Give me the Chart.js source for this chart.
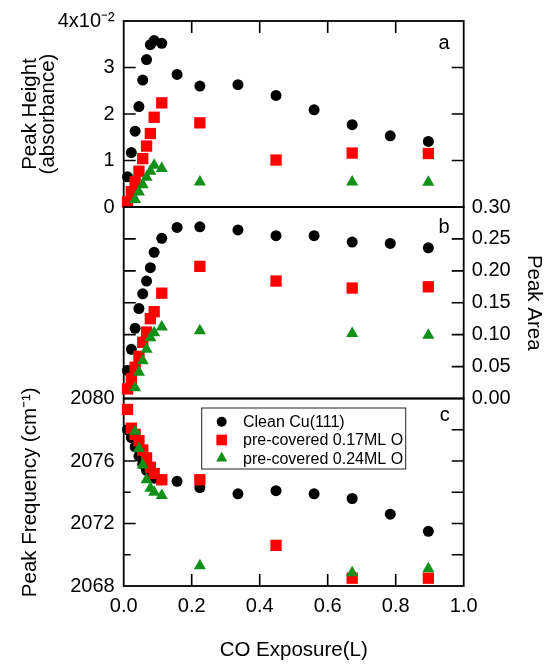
<!DOCTYPE html>
<html>
<head>
<meta charset="utf-8">
<script src="https://cdn.jsdelivr.net/npm/chart.js@4"></script>
<style>
  body { margin: 0; background: #fff; }
  #wrap { position: relative; width: 555px; height: 668px; }
  #wrap canvas { position: absolute; left: 0; top: 0; }
</style>
</head>
<body>
<div id="wrap">
  <canvas id="heightChart" width="555" height="668"></canvas>
  <canvas id="areaChart" width="555" height="668"></canvas>
  <canvas id="freqChart" width="555" height="668"></canvas>
</div>
<script>
// CO exposure (L) for each series
const cleanX = [0.0112, 0.0224, 0.0336, 0.0448, 0.056, 0.0672, 0.0784, 0.0896, 0.112, 0.157, 0.224, 0.336, 0.448, 0.56, 0.672, 0.784, 0.896];
const o17X = [0.0112, 0.0224, 0.0336, 0.0448, 0.056, 0.0672, 0.0784, 0.0896, 0.112, 0.224, 0.448, 0.672, 0.896];
const o24X = [0.0336, 0.0448, 0.056, 0.0672, 0.0784, 0.0896, 0.112, 0.224, 0.672, 0.896];

// panel a: peak height, in units of 10^-2 absorbance
const cleanHeight = [0.65, 1.17, 1.63, 2.16, 2.73, 3.17, 3.49, 3.58, 3.52, 2.85, 2.60, 2.63, 2.40, 2.09, 1.77, 1.53, 1.41];
const o17Height = [0.11, 0.33, 0.54, 0.77, 1.04, 1.31, 1.58, 1.93, 2.24, 1.81, 1.01, 1.16, 1.15];
const o24Height = [0.16, 0.32, 0.48, 0.64, 0.77, 0.90, 0.83, 0.54, 0.54, 0.53];

// panel b: peak area
const cleanArea = [0.044, 0.077, 0.110, 0.141, 0.164, 0.184, 0.205, 0.229, 0.251, 0.268, 0.269, 0.264, 0.255, 0.255, 0.245, 0.243, 0.236];
const o17Area = [0.015, 0.031, 0.049, 0.066, 0.088, 0.104, 0.125, 0.136, 0.165, 0.207, 0.184, 0.173, 0.175];
const o24Area = [0.017, 0.041, 0.059, 0.077, 0.095, 0.103, 0.112, 0.106, 0.102, 0.099];

// panel c: peak frequency (cm-1)
const cleanFreq = [2078.0, 2077.5, 2076.9, 2076.3, 2075.8, 2075.4, 2075.1, 2074.9, 2074.8, 2074.7, 2074.3, 2073.9, 2074.1, 2073.9, 2073.6, 2072.6, 2071.5];
const o17Freq = [2079.3, 2078.1, 2077.7, 2077.3, 2076.7, 2076.2, 2075.6, 2075.2, 2074.8, 2074.8, 2070.6, 2068.5, 2068.5];
const o24Freq = [2077.9, 2076.8, 2075.75, 2074.8, 2074.25, 2074.0, 2073.8, 2069.3, 2068.85, 2069.1];

// tick marks drawn inside the frames
const xMarks = [0.2, 0.4, 0.6, 0.8];
const heightMarks = [1, 2, 3];
const areaMarks = [0.05, 0.10, 0.15, 0.20, 0.25];
const freqMajor = [2072, 2076];
const freqMinor = [2070, 2074, 2078];
const freqRight = [2070, 2072, 2074, 2076, 2078];

// layout
const W = 555, H = 668;
const PLOT_LEFT = 123.7, PLOT_RIGHT = 463.7;
const EDGES = [20, 207, 398.5, 586];

Chart.defaults.font.family = "'Liberation Sans', Arial, sans-serif";
Chart.defaults.font.size = 20;
Chart.defaults.color = '#000';
Chart.defaults.animation = false;
Chart.defaults.plugins.legend.display = false;
Chart.defaults.plugins.tooltip.enabled = false;

const titleFont = { size: 20.5, lineHeight: 0.85 };

const series = [
  { label: 'Clean Cu(111)', color: '#000000', style: 'circle', radius: 5.5, order: 2 },
  { label: 'pre-covered 0.17ML O', color: '#ff0000', style: 'rect', radius: 8, order: 1 },
  { label: 'pre-covered 0.24ML O', color: '#11901a', style: 'triangle', radius: 7, order: 0 }
];

function makeDatasets(ys) {
  const xs = [cleanX, o17X, o24X];
  return series.map((s, k) => ({
    label: s.label,
    data: xs[k].map((x, i) => ({ x: x, y: ys[k][i] })),
    pointStyle: s.style,
    pointRadius: s.radius,
    pointBackgroundColor: s.color,
    pointBorderWidth: 0,
    borderColor: s.color,
    showLine: false,
    clip: false,
    order: s.order
  }));
}

function drawMarker(ctx, style, x, y, r) {
  ctx.beginPath();
  if (style === 'circle') {
    ctx.arc(x, y, r, 0, Math.PI * 2);
  } else if (style === 'rect') {
    const s = r * Math.SQRT1_2;
    ctx.rect(x - s, y - s, 2 * s, 2 * s);
  } else {
    ctx.moveTo(x, y - r);
    ctx.lineTo(x + r * 0.866, y + r / 2);
    ctx.lineTo(x - r * 0.866, y + r / 2);
    ctx.closePath();
  }
  ctx.fill();
}

const framePlugin = {
  id: 'frame',
  beforeDatasetsDraw(chart, args, opts) {
    const { ctx, chartArea: a, scales } = chart;
    const y = scales.y, x = scales.x;
    ctx.save();
    ctx.strokeStyle = '#000';
    ctx.lineWidth = 1.8;
    ctx.strokeRect(a.left, a.top, a.right - a.left, a.bottom - a.top);
    ctx.lineWidth = 1.6;
    ctx.beginPath();
    (opts.left || []).forEach(v => { const p = y.getPixelForValue(v); ctx.moveTo(a.left, p); ctx.lineTo(a.left + 12, p); });
    (opts.leftMinor || []).forEach(v => { const p = y.getPixelForValue(v); ctx.moveTo(a.left, p); ctx.lineTo(a.left + 7, p); });
    (opts.right || []).forEach(v => { const p = y.getPixelForValue(v); ctx.moveTo(a.right, p); ctx.lineTo(a.right - 12, p); });
    (opts.top || []).forEach(v => { const p = x.getPixelForValue(v); ctx.moveTo(p, a.top); ctx.lineTo(p, a.top + 12); });
    (opts.bottom || []).forEach(v => { const p = x.getPixelForValue(v); ctx.moveTo(p, a.bottom); ctx.lineTo(p, a.bottom - 12); });
    ctx.stroke();
    if (opts.letter) {
      ctx.fillStyle = '#000';
      ctx.font = "20px 'Liberation Sans', Arial, sans-serif";
      ctx.textAlign = 'right';
      ctx.textBaseline = 'alphabetic';
      ctx.fillText(opts.letter, a.right - 14, a.top + opts.letterDy);
    }
    ctx.restore();
  },
  afterDatasetsDraw(chart, args, opts) {
    if (!opts.legend) return;
    const { ctx, chartArea: a } = chart;
    const bx = a.left + 78, by = a.top + 9.5, bw = 204, bh = 61;
    ctx.save();
    ctx.fillStyle = '#fff';
    ctx.fillRect(bx, by, bw, bh);
    ctx.strokeStyle = '#222';
    ctx.lineWidth = 1;
    ctx.strokeRect(bx, by, bw, bh);
    ctx.font = "16px 'Liberation Sans', Arial, sans-serif";
    ctx.textAlign = 'left';
    ctx.textBaseline = 'middle';
    series.forEach((s, i) => {
      const ry = by + 13.7 + i * 18.3;
      ctx.fillStyle = s.color;
      drawMarker(ctx, s.style, bx + 20, ry, s.style === 'circle' ? 5 : s.style === 'rect' ? 7.5 : 6.5);
      ctx.fillStyle = '#000';
      ctx.fillText(s.label, bx + 41.3, ry + 1);
    });
    ctx.restore();
  }
};

const hiddenX = { type: 'linear', min: 0, max: 1, display: false };
const noGrid = { display: false, drawTicks: false };

new Chart(document.getElementById('heightChart'), {
  type: 'scatter',
  data: { datasets: makeDatasets([cleanHeight, o17Height, o24Height]) },
  options: {
    responsive: false,
    layout: { padding: { left: 0, right: W - PLOT_RIGHT, top: EDGES[0], bottom: H - EDGES[1] } },
    scales: {
      x: hiddenX,
      y: {
        position: 'left', min: 0, max: 4,
        grid: noGrid, border: { display: false },
        ticks: { stepSize: 1, padding: 9, callback: v => (v === 4 ? '4x10\u207B\u00B2' : String(v)) },
        title: { display: true, text: ['Peak Height', '(absorbance)'], font: titleFont, padding: { top: 22, bottom: 0 } },
        afterFit: s => { s.width = PLOT_LEFT; }
      }
    },
    plugins: { frame: { left: heightMarks, right: heightMarks, top: xMarks, letter: 'a', letterDy: 28 } }
  },
  plugins: [framePlugin]
});

new Chart(document.getElementById('areaChart'), {
  type: 'scatter',
  data: { datasets: makeDatasets([cleanArea, o17Area, o24Area]) },
  options: {
    responsive: false,
    layout: { padding: { left: PLOT_LEFT, right: 0, top: EDGES[1], bottom: H - EDGES[2] } },
    scales: {
      x: hiddenX,
      y: {
        position: 'right', min: 0, max: 0.3,
        grid: noGrid, border: { display: false },
        ticks: { stepSize: 0.05, padding: 8, callback: v => v.toFixed(2) },
        title: { display: true, text: 'Peak Area', font: titleFont, padding: { top: 12.4, bottom: 0 } },
        afterFit: s => { s.width = W - PLOT_RIGHT; }
      }
    },
    plugins: { frame: { left: areaMarks, right: areaMarks, letter: 'b', letterDy: 26 } }
  },
  plugins: [framePlugin]
});

new Chart(document.getElementById('freqChart'), {
  type: 'scatter',
  data: { datasets: makeDatasets([cleanFreq, o17Freq, o24Freq]) },
  options: {
    responsive: false,
    layout: { padding: { left: 0, right: W - PLOT_RIGHT, top: EDGES[2], bottom: 0 } },
    scales: {
      x: {
        type: 'linear', position: 'bottom', min: 0, max: 1,
        grid: noGrid, border: { display: false },
        ticks: { stepSize: 0.2, padding: 8.4, callback: v => v.toFixed(1) },
        title: { display: true, text: 'CO Exposure(L)', font: titleFont, padding: { top: 0, bottom: 8.5 } },
        afterFit: s => { s.height = H - EDGES[3]; }
      },
      y: {
        position: 'left', min: 2068, max: 2080,
        grid: noGrid, border: { display: false },
        ticks: { stepSize: 4, padding: 9, callback: v => String(v) },
        title: { display: true, text: 'Peak Frequency (cm\u207B\u00B9)', font: titleFont, padding: { top: 22, bottom: 0 } },
        afterFit: s => { s.width = PLOT_LEFT; }
      }
    },
    plugins: { frame: { left: freqMajor, leftMinor: freqMinor, right: freqRight, bottom: xMarks, letter: 'c', letterDy: 22, legend: true } }
  },
  plugins: [framePlugin]
});
</script>
</body>
</html>
